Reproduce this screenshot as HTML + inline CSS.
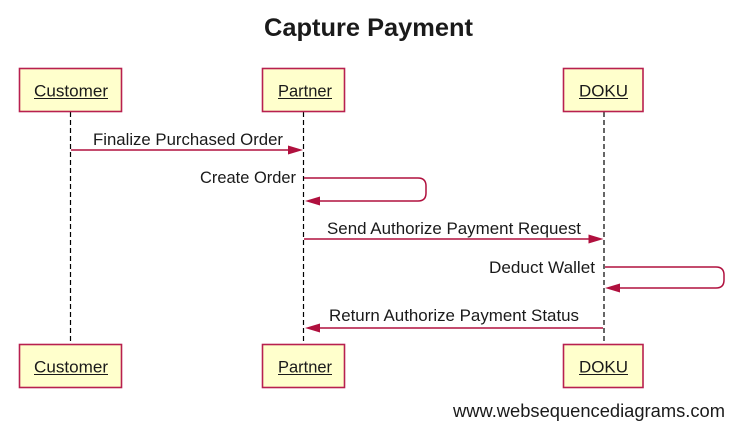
<!DOCTYPE html>
<html>
<head>
<meta charset="utf-8">
<style>
  html, body { margin: 0; padding: 0; background: #ffffff; }
  svg { display: block; }
  text { font-family: "Liberation Sans", "DejaVu Sans", sans-serif; fill: #1a1a1a; }
</style>
</head>
<body>
<svg width="739" height="433" viewBox="0 0 739 433" xmlns="http://www.w3.org/2000/svg">
  <rect x="0" y="0" width="739" height="433" fill="#ffffff"/>

  <!-- Title -->
  <text x="264" y="36" font-size="25" font-weight="bold" textLength="209" lengthAdjust="spacingAndGlyphs" fill="#000">Capture Payment</text>

  <!-- Lifelines -->
  <g stroke="#000" stroke-width="1.2" stroke-dasharray="5,3">
    <line x1="70.5" y1="112" x2="70.5" y2="344"/>
    <line x1="303.5" y1="112" x2="303.5" y2="344"/>
    <line x1="604" y1="112" x2="604" y2="344"/>
  </g>

  <!-- Top participant boxes -->
  <g fill="#ffffcc" stroke="#b8204f" stroke-width="1.6">
    <rect x="19.5" y="68.5" width="102" height="43"/>
    <rect x="262.5" y="68.5" width="82" height="43"/>
    <rect x="563.5" y="68.5" width="79.5" height="43"/>
    <rect x="19.5" y="344.5" width="102" height="43"/>
    <rect x="262.5" y="344.5" width="82" height="43"/>
    <rect x="563.5" y="344.5" width="79.5" height="43"/>
  </g>

  <!-- Participant labels -->
  <g font-size="17">
    <text x="34" y="96.5" textLength="74" lengthAdjust="spacingAndGlyphs">Customer</text>
    <text x="278" y="96.5" textLength="54" lengthAdjust="spacingAndGlyphs">Partner</text>
    <text x="579" y="96.5" textLength="49" lengthAdjust="spacingAndGlyphs">DOKU</text>
    <text x="34" y="372.5" textLength="74" lengthAdjust="spacingAndGlyphs">Customer</text>
    <text x="278" y="372.5" textLength="54" lengthAdjust="spacingAndGlyphs">Partner</text>
    <text x="579" y="372.5" textLength="49" lengthAdjust="spacingAndGlyphs">DOKU</text>
  </g>
  <g stroke="#1a1a1a" stroke-width="1">
    <line x1="34" y1="98.5" x2="108" y2="98.5"/>
    <line x1="278" y1="98.5" x2="332" y2="98.5"/>
    <line x1="579" y1="98.5" x2="628" y2="98.5"/>
    <line x1="34" y1="374.5" x2="108" y2="374.5"/>
    <line x1="278" y1="374.5" x2="332" y2="374.5"/>
    <line x1="579" y1="374.5" x2="628" y2="374.5"/>
  </g>

  <!-- Messages -->
  <g stroke="#b0103e" stroke-width="1.5" fill="none">
    <line x1="71" y1="150" x2="290" y2="150"/>
    <path d="M304 178 H418 Q426 178 426 186 V193 Q426 201 418 201 H318"/>
    <line x1="304" y1="239" x2="590" y2="239"/>
    <path d="M605 267 H716 Q724 267 724 275 V280 Q724 288 716 288 H619"/>
    <line x1="603" y1="328" x2="318" y2="328"/>
  </g>
  <g fill="#b0103e">
    <polygon points="303,150 288,145.5 288,154.5"/>
    <polygon points="305,201 320,196.5 320,205.5"/>
    <polygon points="603.5,239 588.5,234.5 588.5,243.5"/>
    <polygon points="605,288 620,283.5 620,292.5"/>
    <polygon points="305,328 320,323.5 320,332.5"/>
  </g>

  <!-- Message labels -->
  <g font-size="16.5">
    <text x="93" y="145" textLength="190" lengthAdjust="spacingAndGlyphs">Finalize Purchased Order</text>
    <text x="200" y="183" textLength="96" lengthAdjust="spacingAndGlyphs">Create Order</text>
    <text x="327" y="234" textLength="254" lengthAdjust="spacingAndGlyphs">Send Authorize Payment Request</text>
    <text x="489" y="273" textLength="106" lengthAdjust="spacingAndGlyphs">Deduct Wallet</text>
    <text x="329" y="321" textLength="250" lengthAdjust="spacingAndGlyphs">Return Authorize Payment Status</text>
  </g>

  <!-- Watermark -->
  <text x="453" y="417" font-size="18" textLength="272" lengthAdjust="spacingAndGlyphs" fill="#111">www.websequencediagrams.com</text>
</svg>
</body>
</html>
